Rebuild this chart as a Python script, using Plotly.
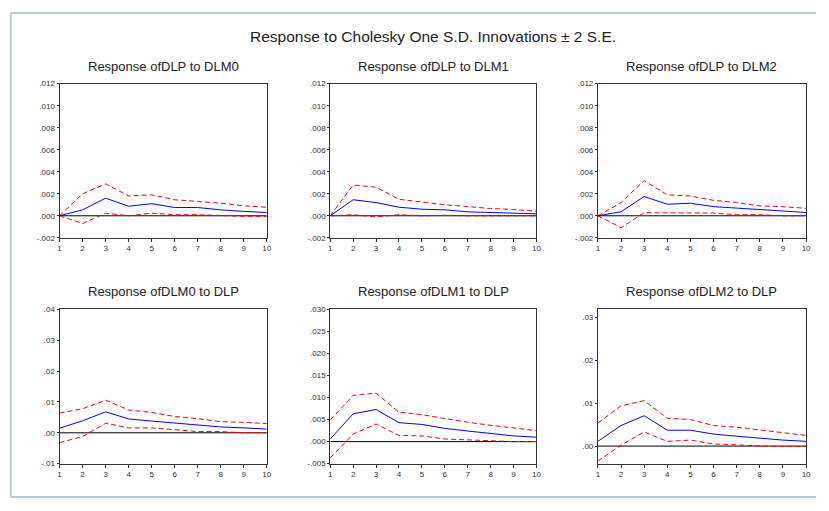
import plotly.graph_objects as go

PAGE_W, PAGE_H = 829, 511
OFF = 8  # default body margin of the page
W, H = PAGE_W - 2 * OFF, PAGE_H - 2 * OFF
periods = list(range(1, 11))

titles = ["Response ofDLP to DLM0", "Response ofDLP to DLM1", "Response ofDLP to DLM2",
          "Response ofDLM0 to DLP", "Response ofDLM1 to DLP", "Response ofDLM2 to DLP"]

resp_dlp_dlm0 = [0.0, 0.00054, 0.0016, 0.00087, 0.0011, 0.00075, 0.00075, 0.00054, 0.0004, 0.0003]
upper_dlp_dlm0 = [0.0, 0.002, 0.0029, 0.0018, 0.0019, 0.00146, 0.0013, 0.00115, 0.0009, 0.00078]
lower_dlp_dlm0 = [0.0, -0.0007, 0.00024, 0.0, 0.00024, 0.0001, 0.0001, 0.0, -0.00005, -0.00005]

resp_dlp_dlm1 = [0.0, 0.00146, 0.0012, 0.00078, 0.0006, 0.00054, 0.00036, 0.0003, 0.0002, 0.00018]
upper_dlp_dlm1 = [0.0, 0.0028, 0.0026, 0.0015, 0.00125, 0.001, 0.00084, 0.00066, 0.00057, 0.00042]
lower_dlp_dlm1 = [0.0, 0.0001, -0.0001, 0.0001, 0.0, 0.00005, 0.0, 0.0, 0.0, 0.0]

resp_dlp_dlm2 = [0.0, 0.00037, 0.00175, 0.00105, 0.00114, 0.00083, 0.0007, 0.00058, 0.00043, 0.0003]
upper_dlp_dlm2 = [0.0, 0.0012, 0.0032, 0.0019, 0.0018, 0.0014, 0.0012, 0.0009, 0.00083, 0.00068]
lower_dlp_dlm2 = [0.0, -0.00108, 0.00028, 0.00028, 0.0003, 0.00025, 0.0001, 0.0001, 0.0, 0.0]

resp_dlm0_dlp = [0.0015, 0.0039, 0.0068, 0.0045, 0.0038, 0.0031, 0.0024, 0.0019, 0.0016, 0.0012]
upper_dlm0_dlp = [0.0064, 0.0078, 0.0106, 0.0074, 0.0066, 0.0053, 0.0046, 0.0036, 0.0034, 0.003]
lower_dlm0_dlp = [-0.0032, -0.0012, 0.0031, 0.0016, 0.0016, 0.001, 0.0004, 0.0004, 0.0, 0.0]

resp_dlm1_dlp = [0.0006, 0.0063, 0.0073, 0.0043, 0.0039, 0.003, 0.0024, 0.0019, 0.0013, 0.001]
upper_dlm1_dlp = [0.0049, 0.0105, 0.011, 0.0067, 0.0061, 0.0052, 0.0044, 0.0037, 0.0031, 0.0025]
lower_dlm1_dlp = [-0.0037, 0.0017, 0.004, 0.0014, 0.0013, 0.0006, 0.0004, 0.00015, 0.0, 0.0]

resp_dlm2_dlp = [0.0011, 0.0048, 0.0071, 0.0037, 0.0037, 0.0028, 0.0023, 0.0018, 0.0014, 0.0011]
upper_dlm2_dlp = [0.0054, 0.0094, 0.0106, 0.0065, 0.0062, 0.0048, 0.0044, 0.0038, 0.0032, 0.0025]
lower_dlm2_dlp = [-0.0035, 0.0002, 0.0033, 0.0011, 0.0014, 0.0005, 0.0003, 0.0, -0.0001, -0.0001]

top_ticks = [-0.002, 0.0, 0.002, 0.004, 0.006, 0.008, 0.010, 0.012]
top_ticktext = ["-.002", ".000", ".002", ".004", ".006", ".008", ".010", ".012"]
dlm0_ticks = [-0.01, 0.0, 0.01, 0.02, 0.03, 0.04]
dlm0_ticktext = ["-.01", ".00", ".01", ".02", ".03", ".04"]
dlm1_ticks = [-0.005, 0.0, 0.005, 0.010, 0.015, 0.020, 0.025, 0.030]
dlm1_ticktext = ["-.005", ".000", ".005", ".010", ".015", ".020", ".025", ".030"]
dlm2_ticks = [0.0, 0.01, 0.02, 0.03]
dlm2_ticktext = [".00", ".01", ".02", ".03"]

panels = [
    (resp_dlp_dlm0, upper_dlp_dlm0, lower_dlp_dlm0, [-0.002, 0.012], top_ticks, top_ticktext),
    (resp_dlp_dlm1, upper_dlp_dlm1, lower_dlp_dlm1, [-0.002, 0.012], top_ticks, top_ticktext),
    (resp_dlp_dlm2, upper_dlp_dlm2, lower_dlp_dlm2, [-0.002, 0.012], top_ticks, top_ticktext),
    (resp_dlm0_dlp, upper_dlm0_dlp, lower_dlm0_dlp, [-0.01, 0.04], dlm0_ticks, dlm0_ticktext),
    (resp_dlm1_dlp, upper_dlm1_dlp, lower_dlm1_dlp, [-0.005, 0.030], dlm1_ticks, dlm1_ticktext),
    (resp_dlm2_dlp, upper_dlm2_dlp, lower_dlm2_dlp, [-0.0041, 0.0319], dlm2_ticks, dlm2_ticktext),
]

# pixel boxes of plot areas on the page (left, right) / (top, bottom)
cols_px = [(58, 267), (331, 539), (601, 811)]
rows_px = [(81, 238), (311, 468)]


def px(x):
    return (x - OFF) / W


def py(y):
    return 1 - (y - OFF) / H


fig = go.Figure()
font_family = "Liberation Sans, Arial, sans-serif"
layout = dict(
    width=W, height=H, margin=dict(l=0, r=0, t=0, b=0),
    paper_bgcolor="white", plot_bgcolor="white", showlegend=False,
    font=dict(family=font_family, color="#222222"),
)
annotations = []
shapes = []

for i, (resp, up, lo, yr, tv, tt) in enumerate(panels):
    r, c = divmod(i, 3)
    l, rt = cols_px[c]
    t, b = rows_px[r]
    n = "" if i == 0 else str(i + 1)
    xa, ya = "x" + n, "y" + n
    layout["xaxis" + n] = dict(domain=[px(l), px(rt)], anchor=ya, range=[1, 10], tickvals=periods,
                               ticktext=[str(p) for p in periods], showgrid=False, zeroline=False,
                               showline=True, linecolor="#333333", linewidth=1, mirror=True,
                               ticks="outside", ticklen=3, tickcolor="#333333",
                               tickfont=dict(size=8, family=font_family, color="#333333"))
    layout["yaxis" + n] = dict(domain=[py(b), py(t)], anchor=xa, range=yr, tickvals=tv, ticktext=tt,
                               showgrid=False, zeroline=False, showline=True, linecolor="#333333",
                               linewidth=1, mirror=True, ticks="outside", ticklen=2,
                               tickcolor="#333333",
                               tickfont=dict(size=8, family=font_family, color="#333333"))
    shapes.append(dict(type="line", xref=xa, yref=ya, x0=1, x1=10, y0=0, y1=0,
                       line=dict(color="black", width=1), layer="below"))
    fig.add_trace(go.Scatter(x=periods, y=up, mode="lines", xaxis=xa, yaxis=ya,
                             line=dict(color="#ff0000", width=1, dash="5px,3px")))
    fig.add_trace(go.Scatter(x=periods, y=lo, mode="lines", xaxis=xa, yaxis=ya,
                             line=dict(color="#ff0000", width=1, dash="5px,3px")))
    fig.add_trace(go.Scatter(x=periods, y=resp, mode="lines", xaxis=xa, yaxis=ya,
                             line=dict(color="#0000ff", width=1)))
    annotations.append(dict(text=titles[i], xref="paper", yref="paper", x=px((l + rt) / 2),
                            y=py(63 if r == 0 else 293), xanchor="center", yanchor="middle",
                            showarrow=False, font=dict(size=13, family=font_family, color="#222222")))

annotations.append(dict(text="Response to Cholesky One S.D. Innovations ± 2 S.E.", xref="paper",
                        yref="paper", x=px(435), y=py(33), xanchor="center", yanchor="middle",
                        showarrow=False, font=dict(size=15.5, family=font_family, color="#222222")))

# outer light-blue frame (as close to the page edges as the figure allows)
frame = dict(color="#b7cbe3", width=2)
shapes.append(dict(type="line", xref="paper", yref="paper", x0=0.001, x1=0.001, y0=0.002,
                   y1=0.998, line=frame))
shapes.append(dict(type="line", xref="paper", yref="paper", x0=0.001, x1=1, y0=0.002,
                   y1=0.002, line=frame))
shapes.append(dict(type="line", xref="paper", yref="paper", x0=0.001, x1=1, y0=0.998,
                   y1=0.998, line=frame))

layout["annotations"] = annotations
layout["shapes"] = shapes
fig.update_layout(**layout)
fig.write_html("out.html")
